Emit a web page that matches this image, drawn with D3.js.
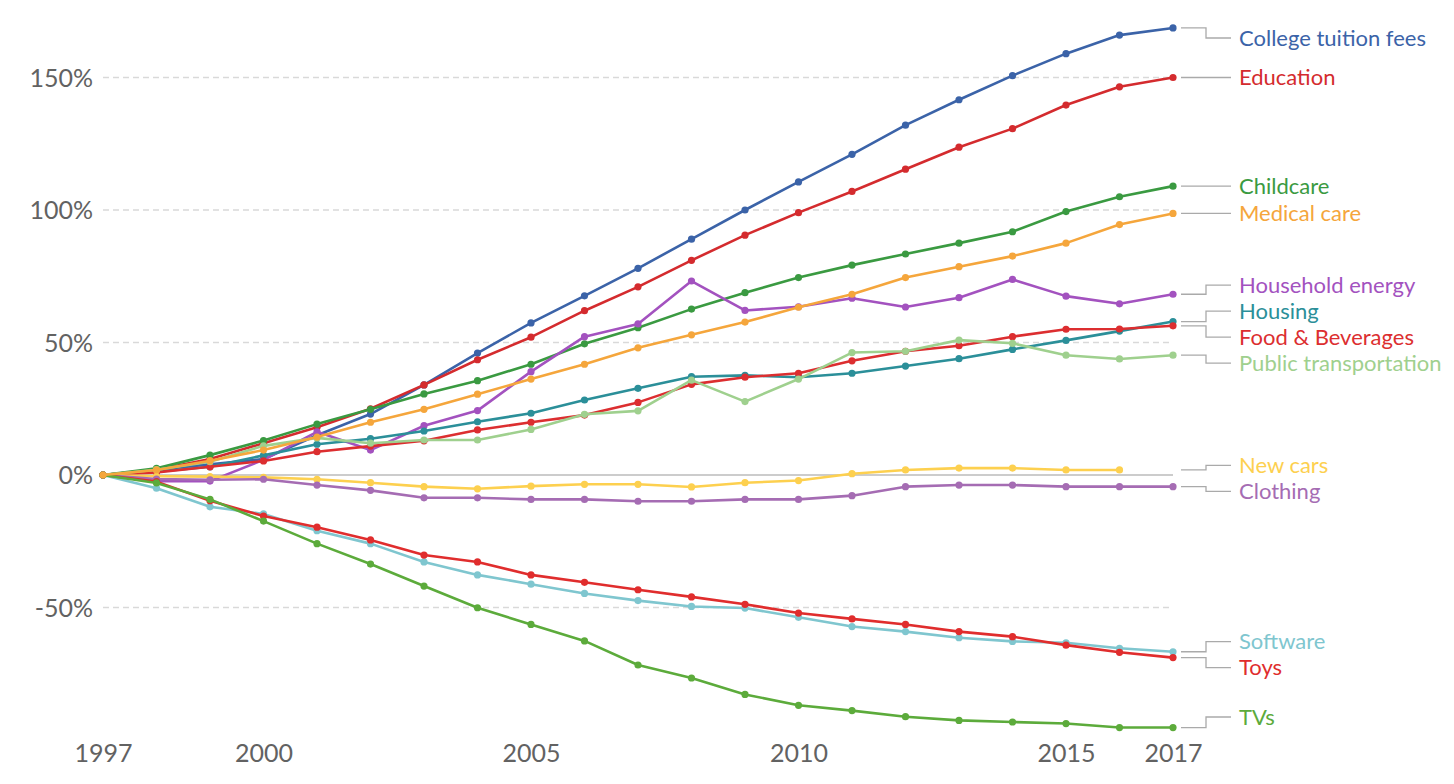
<!DOCTYPE html>
<html>
<head>
<meta charset="utf-8">
<script src="https://cdn.jsdelivr.net/npm/d3@7"></script>
<style>
  body { margin: 0; background: #fff; }
  text { font-family: Lato, "Open Sans", sans-serif; }
</style>
</head>
<body>
<div id="chart"></div>
<script>
// Price change since 1997, by category
const years = d3.range(1997, 2018);
const college   = [0, 2, 4, 6, 15, 23, 34, 46, 57.4, 67.6, 78, 89, 100, 110.6, 121, 132, 141.6, 150.7, 159, 166, 168.7];
const education = [0, 2, 6, 12, 18, 25, 34, 43.5, 52, 62, 71, 81, 90.5, 99, 107, 115.4, 123.7, 130.7, 139.6, 146.5, 150];
const childcare = [0, 2.5, 7.5, 13, 19.2, 24.8, 30.6, 35.6, 41.8, 49.5, 55.6, 62.6, 68.8, 74.5, 79.2, 83.4, 87.5, 91.8, 99.4, 105, 109];
const medical   = [0, 1.9, 5.4, 9.4, 14.3, 19.9, 24.8, 30.5, 36.2, 41.8, 48, 52.9, 57.7, 63.3, 68.2, 74.5, 78.6, 82.6, 87.5, 94.5, 98.7];
const household = [0, -2.3, -2.3, 5.7, 16.3, 9.4, 18.6, 24.3, 39, 52.2, 57, 73.2, 62.1, 63.5, 66.7, 63.4, 66.9, 73.8, 67.5, 64.6, 68.2];
const housing   = [0, 1.2, 3.1, 7.4, 11.6, 13.7, 16.6, 20.1, 23.3, 28.3, 32.7, 37.1, 37.6, 36.9, 38.4, 41.1, 43.9, 47.4, 50.8, 54.3, 57.9];
const food      = [0, 1, 3.1, 5.3, 8.8, 10.9, 12.9, 17, 19.9, 22.6, 27.4, 34.2, 36.9, 38.4, 43.1, 46.7, 48.8, 52.2, 55, 55.1, 56.3];
const transport = [0, 2, 5, 11, 14, 12, 13.2, 13.2, 17.2, 22.9, 24.2, 35.8, 27.7, 36.2, 46.2, 46.7, 50.9, 49.7, 45.2, 43.8, 45.2];
const newCars   = [0, -0.5, -0.6, -0.9, -1.6, -2.9, -4.4, -5.2, -4.2, -3.5, -3.5, -4.5, -2.9, -2.1, 0.5, 1.9, 2.6, 2.6, 1.9, 1.9, null];
const clothing  = [0, -1.5, -1.8, -1.6, -3.8, -5.8, -8.6, -8.6, -9.2, -9.2, -9.9, -9.9, -9.2, -9.2, -7.8, -4.4, -3.8, -3.8, -4.4, -4.4, -4.4];
const software  = [0, -5, -12, -14.7, -21, -25.9, -32.8, -37.7, -41.2, -44.7, -47.4, -49.6, -50.2, -53.7, -57.2, -59.1, -61.4, -62.8, -63.3, -65.4, -66.7];
const toys      = [0, -2.5, -9.7, -15.5, -19.7, -24.5, -30.2, -32.8, -37.7, -40.5, -43.3, -46, -48.8, -52.1, -54.3, -56.4, -59.1, -61, -64.2, -66.9, -68.9];
const tvs       = [0, -3, -9.2, -17.4, -25.9, -33.6, -41.9, -50.1, -56.4, -62.6, -71.7, -76.6, -82.8, -86.9, -88.9, -91.2, -92.6, -93.2, -93.8, -95.3, -95.3];

const seriesNames = ["College tuition fees", "Education", "Childcare", "Household energy", "Housing",
  "Food & Beverages", "Public transportation", "New cars", "Clothing", "Software", "Toys", "TVs", "Medical care"];
const seriesValues = [college, education, childcare, household, housing, food, transport, newCars, clothing, software, toys, tvs, medical];
const seriesColors = ["#3b63a8", "#d42b2e", "#3a9a41", "#a352bf", "#2b8f99", "#dc2e30", "#9fd08e",
  "#fdd04f", "#a56cb3", "#7fc6cf", "#e02d2d", "#5cab3b", "#f5a63c"];

const yTicks = [-50, 0, 50, 100, 150];
const xTicks = [1997, 2000, 2005, 2010, 2015, 2017];

const width = 1454, height = 784;

const svg = d3.select("#chart").append("svg")
    .attr("width", width)
    .attr("height", height);

const x = d3.scaleLinear().domain([1997, 2017]).range([103, 1173]);
const y = d3.scaleLinear().domain([-100, 170]).range([740, 24.5]);

// gridlines
svg.append("g")
    .selectAll("line")
    .data(yTicks.filter(d => d !== 0))
    .join("line")
    .attr("x1", x(1997)).attr("x2", x(2017))
    .attr("y1", d => y(d)).attr("y2", d => y(d))
    .attr("stroke", "#d9d9d9")
    .attr("stroke-width", 1.3)
    .attr("stroke-dasharray", "6,4");

svg.append("line")
    .attr("x1", x(1997)).attr("x2", x(2017))
    .attr("y1", y(0)).attr("y2", y(0))
    .attr("stroke", "#cccccc")
    .attr("stroke-width", 2);

// axes
const yAxis = svg.append("g")
    .attr("transform", "translate(93,0)")
    .call(d3.axisLeft(y).tickValues(yTicks).tickSize(0).tickPadding(0).tickFormat(d => d + "%"));
yAxis.select(".domain").remove();
yAxis.selectAll("text")
    .attr("font-size", 25)
    .attr("fill", "#626262")
    .attr("dy", "0.35em")
    .style("font-family", "Lato, sans-serif");

const xAxis = svg.append("g")
    .attr("transform", "translate(0,753)")
    .call(d3.axisBottom(x).tickValues(xTicks).tickSize(0).tickPadding(0).tickFormat(d3.format("d")));
xAxis.select(".domain").remove();
xAxis.selectAll("text")
    .attr("font-size", 25)
    .attr("fill", "#626262")
    .attr("dy", "0.35em")
    .attr("y", 0)
    .style("font-family", "Lato, sans-serif");

// lines and dots
const line = d3.line()
    .defined(d => d.v !== null)
    .x(d => x(d.year))
    .y(d => y(d.v));

const series = seriesNames.map((name, i) => ({
  name: name,
  color: seriesColors[i],
  points: years.map((yr, j) => ({ year: yr, v: seriesValues[i][j] }))
}));

const groups = svg.append("g").selectAll("g")
    .data(series)
    .join("g");

groups.append("path")
    .attr("d", d => line(d.points))
    .attr("fill", "none")
    .attr("stroke", d => d.color)
    .attr("stroke-width", 2.6)
    .attr("stroke-linejoin", "round");

groups.selectAll("circle")
    .data(d => d.points.filter(p => p.v !== null).map(p => ({ ...p, color: d.color })))
    .join("circle")
    .attr("cx", d => x(d.year))
    .attr("cy", d => y(d.v))
    .attr("r", 3.6)
    .attr("fill", d => d.color);

// label placement: push overlapping labels apart
const gap = 26;
let labels = series.map(s => {
  const last = s.points.filter(p => p.v !== null).slice(-1)[0];
  return { name: s.name, color: s.color, dotY: y(last.v), target: y(last.v) };
}).sort((a, b) => a.target - b.target);

let clusters = labels.map(l => ({ items: [l], mean: l.target }));
let merged = true;
while (merged) {
  merged = false;
  for (let i = 0; i < clusters.length - 1; i++) {
    const a = clusters[i], b = clusters[i + 1];
    const aBottom = a.mean + (a.items.length - 1) * gap / 2;
    const bTop = b.mean - (b.items.length - 1) * gap / 2;
    if (bTop - aBottom < gap) {
      const items = a.items.concat(b.items);
      clusters.splice(i, 2, { items: items, mean: d3.mean(items, d => d.target) });
      merged = true;
      break;
    }
  }
}
clusters.forEach(c => {
  const start = c.mean - (c.items.length - 1) * gap / 2;
  c.items.forEach((l, i) => { l.labelY = Math.max(38, Math.min(717, start + i * gap)); });
});

const lab = svg.append("g").selectAll("g")
    .data(labels)
    .join("g");

lab.append("path")
    .attr("d", d => `M1181,${d.dotY}H1206V${d.labelY}H1231`)
    .attr("fill", "none")
    .attr("stroke", "#aaaaaa")
    .attr("stroke-width", 1.3);

lab.append("text")
    .attr("x", 1239)
    .attr("y", d => d.labelY)
    .attr("dy", "0.35em")
    .attr("font-size", 22)
    .attr("fill", d => d.color)
    .text(d => d.name);
</script>
</body>
</html>
